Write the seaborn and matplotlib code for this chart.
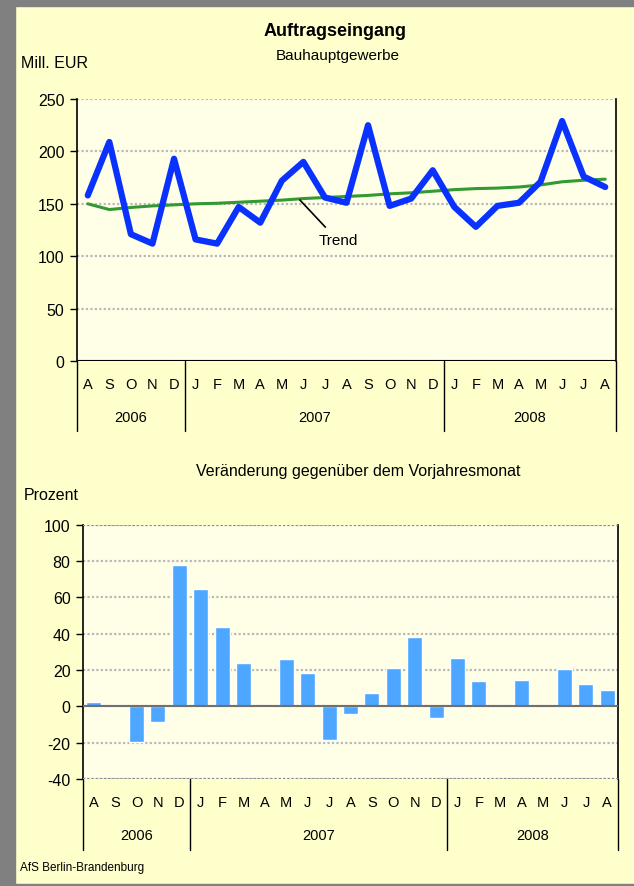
import matplotlib
matplotlib.use("Agg")
import matplotlib.pyplot as plt
import matplotlib.patches as mpatches
from matplotlib.lines import Line2D
import seaborn as sns
import numpy as np
import pandas as pd

# ---------------- data ----------------
months = ["A", "S", "O", "N", "D",
          "J", "F", "M", "A", "M", "J", "J", "A", "S", "O", "N", "D",
          "J", "F", "M", "A", "M", "J", "J", "A"]
years = ["2006", "2007", "2008"]
year_spans = [(0, 5), (5, 17), (17, 25)]

orders = [158, 209, 121, 112, 193,
          116, 112, 147, 132, 172, 190, 156, 151, 225, 148, 155, 182,
          147, 128, 148, 151, 171, 229, 176, 166]
trend = [150, 144.5, 146.5, 148, 149,
         150, 150.5, 151.5, 152.5, 153.5, 155, 156, 157, 158, 159.5, 160.5, 162,
         163.5, 164.5, 165, 166, 168, 171, 172.5, 173.5]
change = [2.6, 0.8, -19.4, -8.4, 78,
          64.7, 43.9, 23.9, -0.5, 26.1, 18.4, -18.8, -4.1, 7.4, 21.2, 38.2, -6.3,
          26.7, 14.0, 0.5, 14.6, 0.0, 20.6, 12.4, 9.1]

idx = list(range(len(months)))
df_top = pd.DataFrame({"i": idx, "orders": orders, "trend": trend})
df_bot = pd.DataFrame({"i": idx, "change": change})

# ---------------- style ----------------
sns.set_style("white")
plt.rcParams['font.family'] = ['Liberation Sans', 'DejaVu Sans']
plt.rcParams['axes.unicode_minus'] = False
plt.rcParams['text.color'] = 'black'
plt.rcParams['ytick.color'] = 'black'
plt.rcParams['ytick.labelcolor'] = 'black'

BG = "#FFFFCC"
PLOT_BG = "#FFFFE8"
GRID = "#B8B8B8"

W, H = 634, 887
fig = plt.figure(figsize=(W / 100, H / 100), dpi=100, facecolor=BG)

# gray frame
fig.patches.append(mpatches.Rectangle((0, 0), 15 / W, 1, transform=fig.transFigure,
                                      color="#808080", zorder=0))
fig.patches.append(mpatches.Rectangle((0, 1 - 7 / H), 1, 7 / H, transform=fig.transFigure,
                                      color="#808080", zorder=0))
fig.patches.append(mpatches.Rectangle((0, 0), 1, 2 / H, transform=fig.transFigure,
                                      color="#808080", zorder=0))


def fx(px):
    return px / W


def fy(py):
    return 1 - py / H


def style_axes(ax):
    ax.set_facecolor(PLOT_BG)
    for s in ["top", "bottom"]:
        ax.spines[s].set_visible(False)
    ax.spines["left"].set_color("black")
    ax.spines["left"].set_linewidth(1.2)
    ax.spines["right"].set_color("black")
    ax.spines["right"].set_linewidth(1.2)
    ax.set_xlim(-0.5, len(months) - 0.5)
    ax.set_xticks([])
    ax.set_xlabel("")
    ax.set_ylabel("")
    ax.tick_params(axis="y", direction="out", length=5, width=1, color="black",
                   labelcolor="black", labelsize=11.5, pad=4, left=True)
    ax.yaxis.grid(True, color=GRID, linestyle=(0, (1, 1)), linewidth=1.6)
    ax.set_axisbelow(True)


def month_axis(ax, month_y, year_y, sep_bottom):
    tr = ax.get_xaxis_transform()
    for i, m in enumerate(months):
        ax.text(i, month_y, m, transform=tr, ha="center", va="center", fontsize=10.5,
                color="black", clip_on=False)
    bounds = [year_spans[0][0]] + [e for _, e in year_spans]
    for b in bounds:
        ax.add_line(Line2D([b - 0.5, b - 0.5], [0, sep_bottom], transform=tr,
                           color="black", linewidth=1, clip_on=False))
    for yname, (s, e) in zip(years, year_spans):
        ax.text((s + e - 1) / 2, year_y, yname, transform=tr, ha="center", va="center",
                fontsize=10.5, color="black", clip_on=False)


# ---------------- top chart ----------------
ax1 = fig.add_axes([fx(77), fy(362), fx(616) - fx(77), fy(100) - fy(362)])
sns.lineplot(data=df_top, x="i", y="trend", ax=ax1, color="#339933", linewidth=2.2)
sns.lineplot(data=df_top, x="i", y="orders", ax=ax1, color="#0A32FF", linewidth=4.5)
style_axes(ax1)
ax1.set_ylim(0, 250)
ax1.set_yticks([0, 50, 100, 150, 200, 250])
ax1.axhline(0, color="black", linewidth=1.5, zorder=3)
h1 = 362 - 100
month_axis(ax1, -(385 - 362) / h1, -(418 - 362) / h1, -(432 - 362) / h1)

ax1.annotate("Trend", xy=(9.84, 153.6), xytext=(11.6, 115),
             ha="center", va="center", fontsize=11, color="black",
             arrowprops=dict(arrowstyle="-", color="black", linewidth=1.2,
                             shrinkA=3, shrinkB=0))

fig.text(fx(335), fy(32), "Auftragseingang", ha="center", va="center",
         fontsize=13, fontweight="bold", color="black")
fig.text(fx(338), fy(56), "Bauhauptgewerbe", ha="center", va="center", fontsize=11,
         color="black")
fig.text(fx(21), fy(64), "Mill. EUR", ha="left", va="center", fontsize=11.5, color="black")

# ---------------- bottom chart ----------------
ax2 = fig.add_axes([fx(83), fy(780), fx(618) - fx(83), fy(525.7) - fy(780)])
sns.barplot(data=df_bot, x="i", y="change", ax=ax2, color="#4DA6FF",
            saturation=1, width=0.7)
style_axes(ax2)
ax2.set_ylim(-40, 100)
ax2.set_yticks(list(range(-40, 101, 20)))
ax2.axhline(0, color="#707070", linewidth=1.5, zorder=3)
ax2.axhline(100, color="#888888", linewidth=1.5, linestyle=(0, (1, 1)), zorder=3)
ax2.axhline(-40, color="#888888", linewidth=1.5, linestyle=(0, (1, 1)), zorder=3)
h2 = 780 - 525.7
month_axis(ax2, -(803 - 780) / h2, -(836 - 780) / h2, -(851 - 780) / h2)

fig.text(fx(358), fy(472), "Veränderung gegenüber dem Vorjahresmonat",
         ha="center", va="center", fontsize=11.5, color="black")
fig.text(fx(24), fy(496), "Prozent", ha="left", va="center", fontsize=11.5, color="black")
fig.text(fx(20), fy(868), "AfS Berlin-Brandenburg", ha="left", va="center", fontsize=8.5,
         color="black")

fig.savefig("out.png", dpi=100, facecolor=BG)
